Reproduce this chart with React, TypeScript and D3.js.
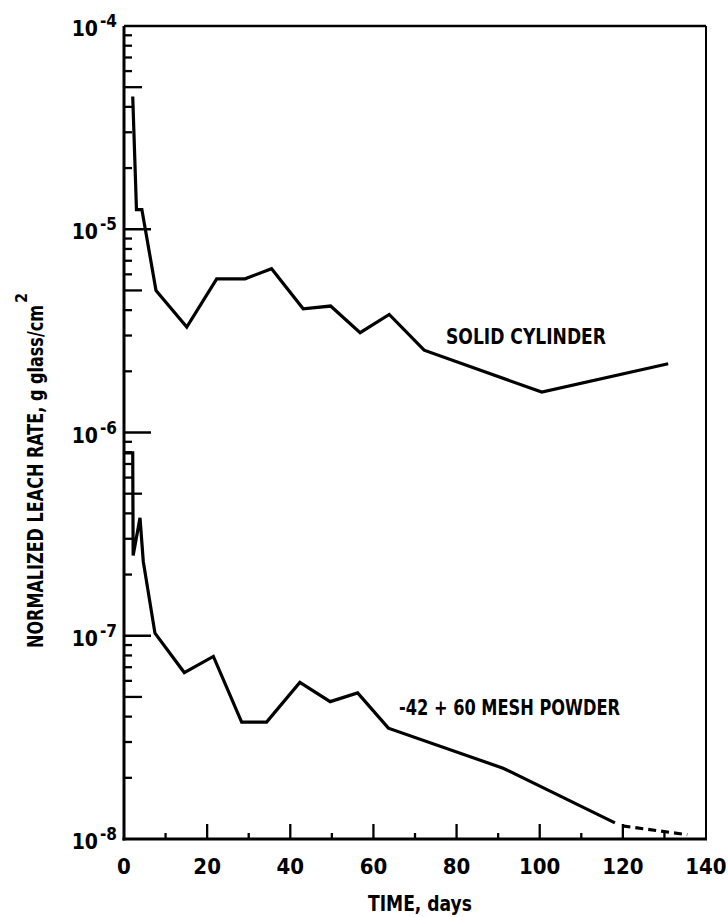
import React from 'react';
import * as d3 from 'd3';

// Solid cylinder leach-rate history (days, g glass/cm^2 per day)
const solidDays = [2.1, 3.0, 4.3, 7.7, 15.1, 22.3, 29.1, 35.5, 43.1, 49.7, 56.8, 63.8, 72.2, 100.5, 130.9];
const solidRates = [4.5e-5, 1.25e-5, 1.25e-5, 5.0e-6, 3.3e-6, 5.7e-6, 5.7e-6, 6.4e-6, 4.06e-6, 4.19e-6, 3.1e-6, 3.81e-6, 2.54e-6, 1.58e-6, 2.18e-6];

// -42 + 60 mesh powder leach-rate history
const powderDays = [0.2, 2.1, 2.2, 3.85, 4.64, 7.45, 14.5, 21.5, 28.3, 34.3, 42.3, 49.6, 56.2, 63.6, 91.2, 118.1];
const powderRates = [7.94e-7, 7.94e-7, 2.48e-7, 3.8e-7, 2.32e-7, 1.03e-7, 6.59e-8, 7.91e-8, 3.76e-8, 3.76e-8, 5.89e-8, 4.74e-8, 5.23e-8, 3.51e-8, 2.23e-8, 1.2e-8];

// Extrapolated (dashed) tail of the powder curve
const powderExtDays = [119.9, 135.5];
const powderExtRates = [1.16e-8, 1.05e-8];

// Axis ticks
const xMajorTicks = [0, 20, 40, 60, 80, 100, 120, 140];
const xMinorTicks = [10, 30, 50, 70, 90, 110, 130];
const yDecadeExponents = [-4, -5, -6, -7, -8];
const yMinorMultipliers = [2, 3, 4, 5, 6, 7, 8, 9];

const FONT = "'Liberation Sans Narrow', 'DejaVu Sans Condensed', 'Liberation Sans', Arial, sans-serif";

const PLOT = { left: 124, right: 706, top: 26, bottom: 839 };

export default function App() {
  const x = d3.scaleLinear().domain([0, 140]).range([PLOT.left, PLOT.right]);
  const y = d3.scaleLog().domain([1e-8, 1e-4]).range([PLOT.bottom, PLOT.top]);

  const line = d3
    .line<[number, number]>()
    .x((d) => x(d[0]))
    .y((d) => y(d[1]));

  const solidPath = line(solidDays.map((d, i) => [d, solidRates[i]] as [number, number])) || '';
  const powderPath = line(powderDays.map((d, i) => [d, powderRates[i]] as [number, number])) || '';
  const extPath = line(powderExtDays.map((d, i) => [d, powderExtRates[i]] as [number, number])) || '';

  const minorY: { v: number; len: number }[] = [];
  for (let k = -8; k < -4; k++) {
    for (const m of yMinorMultipliers) {
      minorY.push({ v: m * Math.pow(10, k), len: m === 5 ? 18 : 8 });
    }
  }

  return (
    <svg
      width={728}
      height={917}
      viewBox="0 0 728 917"
      style={{ position: 'absolute', left: 0, top: 0, background: '#fff' }}
    >
      <rect x={0} y={0} width={728} height={917} fill="#fff" />

      {/* frame */}
      <line x1={PLOT.left} y1={PLOT.top} x2={PLOT.right} y2={PLOT.top} stroke="#000" strokeWidth={2.5} />
      <line x1={PLOT.right} y1={PLOT.top} x2={PLOT.right} y2={PLOT.bottom} stroke="#000" strokeWidth={2} />
      <line x1={PLOT.left} y1={PLOT.top} x2={PLOT.left} y2={PLOT.bottom + 1.5} stroke="#000" strokeWidth={3} />
      <line x1={PLOT.left - 1.5} y1={PLOT.bottom} x2={PLOT.right + 1} y2={PLOT.bottom} stroke="#000" strokeWidth={3} />

      {/* y ticks */}
      {yDecadeExponents
        .filter((e) => e !== -4 && e !== -8)
        .map((e) => (
          <line
            key={'yd' + e}
            x1={PLOT.left}
            x2={PLOT.left + 27}
            y1={y(Math.pow(10, e))}
            y2={y(Math.pow(10, e))}
            stroke="#000"
            strokeWidth={2.5}
          />
        ))}
      {minorY.map((t, i) => (
        <line
          key={'ym' + i}
          x1={PLOT.left}
          x2={PLOT.left + t.len}
          y1={y(t.v)}
          y2={y(t.v)}
          stroke="#000"
          strokeWidth={2.3}
        />
      ))}

      {/* x ticks */}
      {xMajorTicks
        .filter((t) => t !== 0 && t !== 140)
        .map((t) => (
          <line key={'xM' + t} x1={x(t)} x2={x(t)} y1={PLOT.bottom} y2={PLOT.bottom - 15} stroke="#000" strokeWidth={2.3} />
        ))}
      {xMinorTicks.map((t) => (
        <line key={'xm' + t} x1={x(t)} x2={x(t)} y1={PLOT.bottom} y2={PLOT.bottom - 6} stroke="#000" strokeWidth={2.3} />
      ))}

      {/* y tick labels */}
      {yDecadeExponents.map((e) => {
        const yy = y(Math.pow(10, e));
        return (
          <g key={'yl' + e} fontFamily={FONT} fontWeight="bold" fill="#000">
            <text x={98} y={yy + 10} fontSize={21} textAnchor="end">
              10
            </text>
            <text x={100} y={yy + 1} fontSize={17} textAnchor="start">
              {'-' + String(-e)}
            </text>
          </g>
        );
      })}

      {/* x tick labels */}
      {xMajorTicks.map((t) => (
        <text
          key={'xl' + t}
          x={x(t)}
          y={874}
          fontSize={22}
          fontFamily={FONT}
          fontWeight="bold"
          textAnchor="middle"
          fill="#000"
        >
          {t}
        </text>
      ))}

      {/* axis titles */}
      <text x={368} y={911} fontSize={22} fontFamily={FONT} fontWeight="bold" textLength={104} lengthAdjust="spacingAndGlyphs">
        TIME, days
      </text>
      <g transform="translate(43,648) rotate(-90)" fontFamily={FONT} fontWeight="bold" fill="#000">
        <text x={0} y={0} fontSize={21} textLength={343} lengthAdjust="spacingAndGlyphs">
          NORMALIZED LEACH RATE, g glass/cm
        </text>
        <text x={345} y={-16} fontSize={16}>
          2
        </text>
      </g>

      {/* curves */}
      <path d={solidPath} fill="none" stroke="#000" strokeWidth={3.2} strokeLinejoin="miter" />
      <path d={powderPath} fill="none" stroke="#000" strokeWidth={3.2} strokeLinejoin="miter" />
      <path d={extPath} fill="none" stroke="#000" strokeWidth={3.2} strokeDasharray="8 5" />

      {/* curve labels */}
      <text x={446} y={344} fontSize={22} fontFamily={FONT} fontWeight="bold" textLength={160} lengthAdjust="spacingAndGlyphs">
        SOLID CYLINDER
      </text>
      <text x={399} y={715} fontSize={22} fontFamily={FONT} fontWeight="bold" textLength={221} lengthAdjust="spacingAndGlyphs">
        -42 + 60 MESH POWDER
      </text>
    </svg>
  );
}
